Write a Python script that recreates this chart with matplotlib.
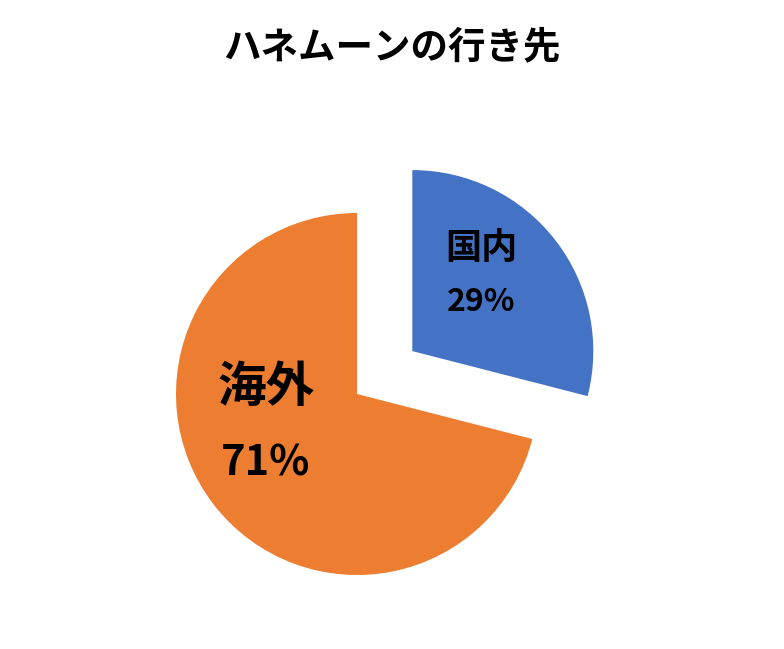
import matplotlib
matplotlib.use('Agg')
import matplotlib.pyplot as plt

plt.rcParams['font.family'] = ['Noto Sans CJK JP', 'DejaVu Sans']

# data
title = 'ハネムーンの行き先'
labels = ['国内', '海外']
shares = [29, 71]
colors = ['#4472C4', '#ED7D31']

fig = plt.figure(figsize=(7.84, 6.49), dpi=100)
ax = fig.add_axes([0, 0, 1, 1])

# explode is an offset in data units here (pie does not scale it by radius)
ax.pie(shares, colors=colors, startangle=90, counterclock=False,
       explode=[70, 0], center=(357, 255), radius=181,
       wedgeprops=dict(linewidth=0))

# pie() resets the limits, so set them afterwards
ax.set_xlim(0, 784)
ax.set_ylim(0, 649)
ax.set_aspect('equal')
ax.axis('off')

# labels (Excel style: name above, percent below)
ax.text(481, 401, labels[0], ha='center', va='center', fontsize=26, fontweight='bold')
ax.text(481, 347, f'{shares[0]}%', ha='center', va='center', fontsize=23, fontweight='bold')
ax.text(266, 262, labels[1], ha='center', va='center', fontsize=35, fontweight='bold')
ax.text(266, 186, f'{shares[1]}%', ha='center', va='center', fontsize=30, fontweight='bold')

ax.text(392, 602, title, ha='center', va='center', fontsize=27, fontweight='bold')

plt.savefig('out.png', dpi=100)
